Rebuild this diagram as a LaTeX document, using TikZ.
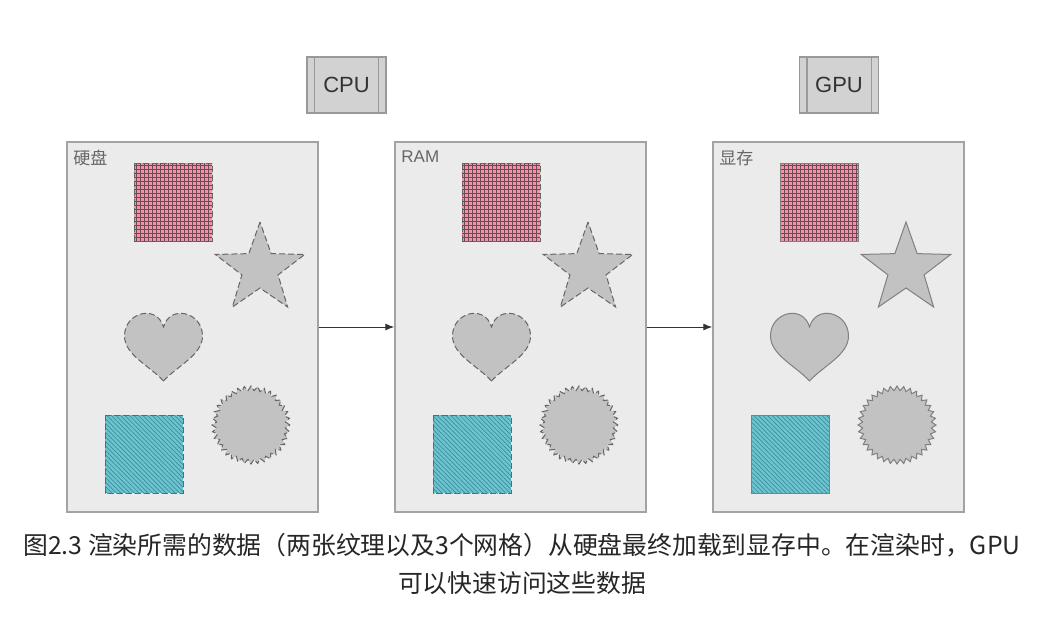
\documentclass[tikz,border=0pt]{standalone}
\usepackage{fontspec}
\setmainfont{Liberation Sans}
\newfontfamily\cjk{Noto Sans CJK SC}
\usetikzlibrary{positioning, arrows.meta, patterns.meta}

\definecolor{paper}{HTML}{EBEBEB}
\definecolor{edgegray}{HTML}{A3A3A3}
\definecolor{chipgray}{HTML}{D2D2D2}
\definecolor{shapegray}{HTML}{C2C2C2}
\definecolor{pinkbase}{HTML}{F292A6}
\definecolor{gridink}{HTML}{6A4A55}
\definecolor{tealbase}{HTML}{6EC4CE}
\definecolor{tealink}{HTML}{3B8F9B}

\begin{document}
\begin{tikzpicture}[x=0.5pt, y=0.5pt,
    panel/.style={draw=edgegray, fill=paper, line width=0.7pt, minimum width=125.5pt, minimum height=185pt, inner sep=0pt},
    chip/.style={draw=black!40, fill=chipgray, line width=0.6pt, minimum width=39.5pt, minimum height=28pt, inner sep=0pt, font=\fontsize{11}{13}\selectfont, text=black!80},
    chipline/.style={draw=black!40, line width=0.6pt},
    tag/.style={anchor=north west, inner sep=0pt, text=black!60, font=\fontsize{8.5}{10}\selectfont},
    body/.style={fill=shapegray},
    loaded/.style={draw=black!60, line width=0.5pt, dash pattern=on 3pt off 1.5pt},
    resident/.style={draw=black!50, line width=0.5pt},
    pinktex/.style={fill=pinkbase, postaction={pattern={Hatch[distance=2pt, line width=0.3pt]}, pattern color=gridink}},
    tealtex/.style={fill=tealbase, postaction={pattern={Lines[angle=-45, distance=1.6pt, line width=0.35pt]}, pattern color=tealink}},
    link/.style={-{Latex[length=4.5pt, width=3.5pt]}, draw=black!80, line width=0.5pt},
    caption/.style={align=center, text=black!85, font=\cjk\fontsize{12.4}{19}\selectfont}]

    \fill[white] (0,0) rectangle (1044,-621);
    \useasboundingbox (0,0) rectangle (1044,-621);

    % processors
    \node[chip] (cpu) at (346.5,-85) {CPU};
    \node[chip] (gpu) at (839,-85) {GPU};
    \foreach \c in {cpu, gpu}
        \draw[chipline] ([xshift=4pt]\c.north west) -- ([xshift=4pt]\c.south west)
                        ([xshift=-4pt]\c.north east) -- ([xshift=-4pt]\c.south east);

    % memories with the same data
    \foreach \dx/\name/\tagtext/\edge in {0/disk/{\cjk 硬盘}/loaded, 328/ram/RAM/loaded, 646/vram/{\cjk 显存}/resident} {
        \node[panel] (\name) at (\dx+192.5,-327) {};
        \node[tag] (\name-tag) at (\dx+73,-150) {\tagtext};
        \begin{scope}[shift={(\dx,0)}]
            \path[pinktex] (134,-163) rectangle (212,-241);
            \draw[\edge] (134,-163) rectangle (212,-241);
            \begin{scope}[shift={(260,-269)}]
                \draw[body, \edge] (90:47) \foreach \k in {1,...,9} { -- ({90+36*\k}:{47-28*mod(\k,2)}) } -- cycle;
            \end{scope}
            \draw[body, \edge] (163.5,-381)
                .. controls (150,-366) and (124.5,-355) .. (124.5,-336)
                .. controls (124.5,-312) and (157,-304) .. (163.5,-327)
                .. controls (170,-304) and (202.5,-312) .. (202.5,-336)
                .. controls (202.5,-355) and (177,-366) .. (163.5,-381) -- cycle;
            \path[tealtex] (105,-415) rectangle (183,-493);
            \draw[\edge] (105,-415) rectangle (183,-493);
            \begin{scope}[shift={(251,-425)}]
                \draw[body, \edge] (0:39) \foreach \k in {1,...,71} { -- ({5*\k}:{39-4.5*mod(\k,2)}) } -- cycle;
            \end{scope}
        \end{scope}
    }

    \draw[link] (disk) -- (ram);
    \draw[link] (ram) -- (vram);

    \node[caption] (note) at (522,-564) {图2.3 渲染所需的数据（两张纹理以及3个网格）从硬盘最终加载到显存中。在渲染时，GPU\\可以快速访问这些数据};
\end{tikzpicture}
\end{document}
